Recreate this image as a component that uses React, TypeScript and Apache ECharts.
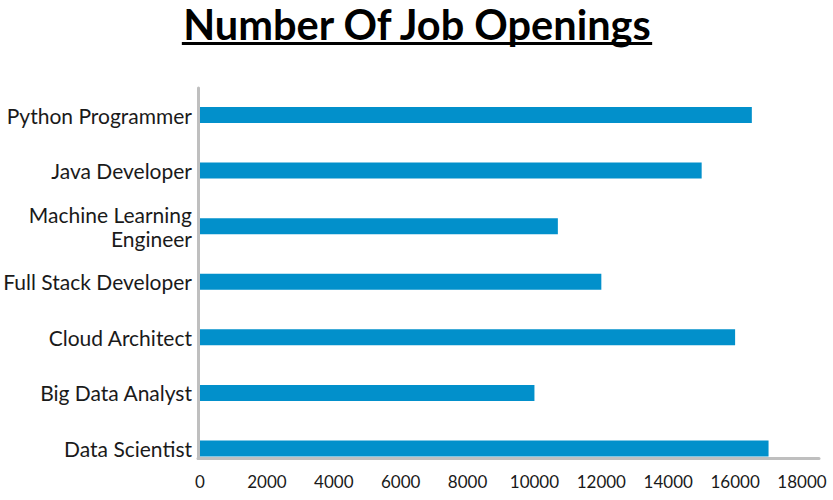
import React, { useEffect, useRef } from "react";
import * as echarts from "echarts";

const titleText = "Number Of Job Openings";
const categories = [
  "Python Programmer",
  "Java Developer",
  "Machine Learning\nEngineer",
  "Full Stack Developer",
  "Cloud Architect",
  "Big Data Analyst",
  "Data Scientist",
];
const openings = [16500, 15000, 10700, 12000, 16000, 10000, 17000];
const xMin = 0;
const xMax = 18000;
const xInterval = 2000;

const FONT = "Lato, 'Noto Sans', sans-serif";
const AXIS_GRAY = "#bfbfbf";
const BAR_BLUE = "#0290cb";

function measure(text: string, font: string): number {
  const c = document.createElement("canvas");
  const ctx = c.getContext("2d");
  if (!ctx) return text.length * 20;
  ctx.font = font;
  return ctx.measureText(text).width;
}

export default function App() {
  const ref = useRef<HTMLDivElement>(null);
  useEffect(() => {
    if (!ref.current) return;
    const chart = echarts.init(ref.current, undefined, { renderer: "svg" });
    const titleSize = 41.5;
    const tw = measure(titleText, `bold ${titleSize}px Lato`);
    const cx = 417;
    chart.setOption({
      animation: false,
      backgroundColor: "#ffffff",
      graphic: [
        {
          type: "text",
          x: cx,
          y: 23.5,
          style: {
            text: titleText,
            font: `bold ${titleSize}px ${FONT}`,
            lineHeight: 44,
            fill: "#000000",
            textAlign: "center",
            textVerticalAlign: "middle",
          },
        },
        {
          type: "rect",
          shape: { x: cx - tw / 2, y: 42, width: tw, height: 3 },
          style: { fill: "#000000" },
        },
      ],
      grid: [
        { left: 198, right: 14, top: 88, bottom: 41.5 },
        { left: 200, right: 31, top: 115, bottom: 51.5 },
      ],
      xAxis: [
        {
          gridIndex: 0,
          type: "value",
          min: 0,
          max: 1,
          axisLine: { show: true, lineStyle: { color: AXIS_GRAY, width: 3 } },
          axisTick: { show: false },
          axisLabel: { show: false },
          splitLine: { show: false },
        },
        {
          gridIndex: 1,
          type: "value",
          min: xMin,
          max: xMax,
          interval: xInterval,
          offset: 10,
          axisLine: { show: false },
          axisTick: { show: false },
          splitLine: { show: false },
          axisLabel: {
            show: true,
            margin: 14,
            fontFamily: FONT,
            fontSize: 17,
            color: "#1a1a1a",
            formatter: (v: number) => String(v),
          },
        },
      ],
      yAxis: [
        {
          gridIndex: 0,
          type: "value",
          min: 0,
          max: 1,
          axisLine: { show: true, lineStyle: { color: AXIS_GRAY, width: 3 } },
          axisTick: { show: false },
          axisLabel: { show: false },
          splitLine: { show: false },
        },
        {
          gridIndex: 1,
          type: "category",
          data: categories,
          inverse: true,
          boundaryGap: false,
          axisLine: { show: false },
          axisTick: { show: false },
          splitLine: { show: false },
          axisLabel: {
            margin: 8,
            fontFamily: FONT,
            fontSize: 21,
            lineHeight: 24,
            color: "#1a1a1a",
            align: "right",
          },
        },
      ],
      series: [
        {
          type: "bar",
          xAxisIndex: 1,
          yAxisIndex: 1,
          data: openings,
          barWidth: 16,
          itemStyle: { color: BAR_BLUE },
          z: 3,
        },
      ],
    });
    return () => chart.dispose();
  }, []);
  return (
    <div
      ref={ref}
      style={{ position: "absolute", left: 0, top: 0, width: 833, height: 500 }}
    />
  );
}
